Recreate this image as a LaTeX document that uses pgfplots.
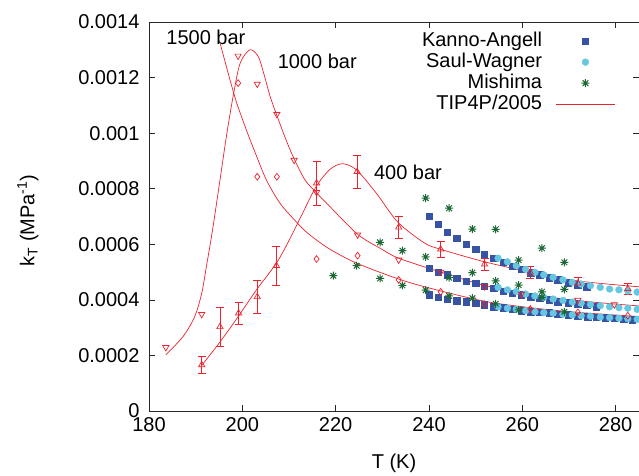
\documentclass[border=0pt]{standalone}
\usepackage{fontspec}
\setmainfont{Liberation Sans}
\usepackage{pgfplots}
\pgfplotsset{compat=1.18}
\definecolor{kablue}{RGB}{56,82,164}
\definecolor{swcyan}{RGB}{102,200,224}
\definecolor{mgreen}{RGB}{28,104,52}
\definecolor{tipred}{RGB}{236,34,44}
\definecolor{axgray}{RGB}{40,40,40}
\pgfdeclareplotmark{star8}{%
  \pgfpathmoveto{\pgfpoint{-\pgfplotmarksize}{0pt}}\pgfpathlineto{\pgfpoint{\pgfplotmarksize}{0pt}}%
  \pgfpathmoveto{\pgfpoint{0pt}{-\pgfplotmarksize}}\pgfpathlineto{\pgfpoint{0pt}{\pgfplotmarksize}}%
  \pgfpathmoveto{\pgfpoint{-0.707\pgfplotmarksize}{-0.707\pgfplotmarksize}}\pgfpathlineto{\pgfpoint{0.707\pgfplotmarksize}{0.707\pgfplotmarksize}}%
  \pgfpathmoveto{\pgfpoint{-0.707\pgfplotmarksize}{0.707\pgfplotmarksize}}\pgfpathlineto{\pgfpoint{0.707\pgfplotmarksize}{-0.707\pgfplotmarksize}}%
  \pgfusepathqstroke}
\newcommand{\bigfont}{\fontsize{20}{22}\selectfont}
\begin{document}
\begin{tikzpicture}
\useasboundingbox (-149pt,-64pt) rectangle (490pt,411pt);
\begin{axis}[
  width=490pt, height=389pt, scale only axis,
  xmin=180, xmax=285, ymin=0, ymax=0.0014,
  xtick={180,200,220,240,260,280},
  ytick={0,0.0002,0.0004,0.0006,0.0008,0.001,0.0012,0.0014},
  scaled y ticks=false,
  /pgf/number format/assume math mode=true,
  yticklabel style={/pgf/number format/fixed,/pgf/number format/precision=4, xshift=-6pt},
  xticklabel style={yshift=-3pt},
  tick label style={font=\bigfont},
  every axis y label/.style={at={(axis description cs:-0.247,0.49)}, rotate=90, anchor=center, font=\bigfont},
  every axis x label/.style={at={(axis description cs:0.5,0)}, anchor=center, yshift=-52pt, font=\bigfont},
  axis line style={axgray, line width=0.8pt},
  major tick style={axgray, line width=0.6pt},
  major tick length=6pt,
  tick align=inside,
  xlabel={T (K)},
  ylabel={k\textsubscript{T} (MPa\textsuperscript{-1})},
  legend style={draw=none, fill=none, inner sep=0pt, at={(0.951,0.977)}, anchor=north east,
    font=\bigfont, row sep=1pt,
    nodes={inner sep=0pt, text height=15pt, text depth=5pt},
    /tikz/every odd column/.append style={column sep=14pt}},
  legend cell align=right,
  legend plot pos=right,
  legend image code/.code={\draw[mark repeat=2,mark phase=2,#1] plot coordinates {(0pt,0pt) (29pt,0pt) (58pt,0pt)};},
]
% Kanno-Angell
\addplot[only marks, mark=square*, mark size=3.2pt, kablue, mark options={draw=none, fill=kablue}] table {
T k
240.0 0.000702
242.0 0.000672
243.9 0.000643
245.9 0.000622
248.0 0.000601
250.0 0.000582
251.8 0.000564
253.9 0.000550
255.9 0.000535
257.8 0.000522
259.8 0.000510
261.8 0.000498
263.7 0.000490
265.7 0.000480
267.6 0.000472
269.8 0.000462
271.9 0.000454
273.8 0.000447
240.0 0.000513
242.0 0.000499
243.9 0.000490
245.9 0.000478
248.0 0.000468
250.0 0.000460
251.8 0.000450
253.9 0.000442
255.9 0.000432
257.8 0.000424
259.8 0.000418
261.8 0.000411
263.7 0.000406
265.7 0.000400
267.6 0.000394
269.8 0.000390
271.9 0.000386
273.8 0.000381
275.8 0.000376
240.0 0.000418
242.0 0.000409
243.9 0.000402
245.9 0.000397
248.0 0.000393
250.0 0.000388
251.8 0.000382
253.9 0.000375
255.9 0.000372
257.8 0.000366
259.8 0.000361
261.8 0.000357
263.7 0.000355
265.7 0.000354
267.6 0.000349
269.8 0.000346
271.9 0.000342
274.0 0.000340
275.8 0.000337
277.7 0.000336
279.7 0.000334
281.7 0.000330
283.6 0.000328
};
\addlegendentry{Kanno-Angell}
% Saul-Wagner
\addplot[only marks, mark=*, mark size=3.4pt, swcyan, mark options={draw=none, fill=swcyan}] table {
T k
254.8 0.000550
256.8 0.000537
258.7 0.000523
260.7 0.000510
262.7 0.000499
264.6 0.000490
266.6 0.000481
268.7 0.000472
270.7 0.000463
272.6 0.000457
274.6 0.000451
276.7 0.000445
278.7 0.000439
280.7 0.000436
282.6 0.000432
284.6 0.000428
254.8 0.000445
256.8 0.000436
258.7 0.000430
260.7 0.000421
262.7 0.000414
264.6 0.000409
266.6 0.000403
268.7 0.000398
270.7 0.000392
272.6 0.000388
274.6 0.000383
276.7 0.000379
278.7 0.000375
280.7 0.000372
282.6 0.000370
284.6 0.000366
254.8 0.000375
256.8 0.000370
258.7 0.000366
260.7 0.000361
262.7 0.000357
264.6 0.000354
266.6 0.000352
268.7 0.000348
270.7 0.000346
272.6 0.000343
274.6 0.000341
276.7 0.000338
278.7 0.000336
280.7 0.000334
282.6 0.000332
284.6 0.000330
};
\addlegendentry{Saul-Wagner}
% Mishima
\addplot[only marks, mark=star8, mark size=4pt, mgreen, mark options={line width=1pt}] table {
T k
219.5 0.000487
224.5 0.000523
229.5 0.000607
229.5 0.000477
234.3 0.000577
234.3 0.000452
239.3 0.000766
239.3 0.000555
239.3 0.000435
244.3 0.000730
244.3 0.000480
244.3 0.000414
249.3 0.000655
249.3 0.000498
249.3 0.000406
254.3 0.000654
254.3 0.000468
254.3 0.000386
259.2 0.000543
259.2 0.000453
259.2 0.000364
264.2 0.000586
264.2 0.000429
264.2 0.000409
269.0 0.000535
269.0 0.000438
269.0 0.000357
};
\addlegendentry{Mishima}
% TIP4P/2005 400 bar
\addplot[tipred, line width=0.7pt, smooth, no marks] table {
T k
191.1 0.000160
195.2 0.000248
199.2 0.000342
203.2 0.000440
207.3 0.000532
210.2 0.000620
213.0 0.000715
215.9 0.000810
218.8 0.000870
221.5 0.000890
224.5 0.000867
228.8 0.000782
233.3 0.000680
239.0 0.000605
242.5 0.000582
251.9 0.000537
261.7 0.000500
271.9 0.000468
285.0 0.000447
};
\addlegendentry{TIP4P/2005}
% 1000 bar
\addplot[tipred, line width=0.7pt, smooth, no marks, forget plot] table {
T k
183.6 0.000202
187.3 0.000268
189.8 0.000340
191.3 0.000424
192.3 0.000520
193.6 0.000650
195.2 0.000830
196.6 0.000990
198.0 0.001130
199.5 0.001250
201.6 0.001300
203.4 0.001276
204.5 0.001220
206.0 0.001130
207.7 0.001050
209.5 0.000970
211.3 0.000900
213.5 0.000830
215.9 0.000785
218.8 0.000735
224.7 0.000636
229.5 0.000586
233.5 0.000550
242.5 0.000500
251.9 0.000452
261.7 0.000420
271.9 0.000397
285.0 0.000378
};
% 1500 bar
\addplot[tipred, line width=0.7pt, smooth, no marks, forget plot] table {
T k
195.3 0.001320
198.4 0.001130
200.9 0.001010
203.1 0.000915
205.2 0.000830
208.1 0.000747
211.6 0.000680
214.0 0.000640
218.5 0.000585
224.5 0.000532
233.5 0.000475
240.2 0.000442
251.9 0.000395
261.7 0.000372
271.9 0.000355
285.0 0.000340
};
% simulation points 400 bar
\addplot[tipred, only marks, mark=triangle, mark size=3.6pt, mark options={line width=0.7pt}, forget plot,
  error bars/.cd, y dir=both, y explicit, error bar style={tipred, line width=0.7pt},
  error mark options={rotate=90, mark size=4pt, tipred, line width=0.7pt}]
  table[x=T, y=k, y error=e] {
T k e
191.3 0.000166 0.00003
195.2 0.000303 0.00007
199.2 0.000352 0.00004
203.2 0.000411 0.00006
207.3 0.000523 0.00007
215.9 0.000820 0.00008
224.6 0.000861 0.00006
233.5 0.000661 0.00004
242.5 0.000582 0.00003
251.9 0.000528 0.00002
261.7 0.000499 0.00002
271.9 0.000460 0.00002
282.6 0.000440 0.00002
};
% 1000 bar
\addplot[tipred, only marks, mark=triangle, mark size=3.6pt, mark options={rotate=180, line width=0.7pt}, forget plot] table {
T k
183.6 0.000229
191.3 0.000348
199.1 0.001278
203.2 0.001177
207.4 0.001068
211.1 0.000903
215.9 0.000787
224.7 0.000634
233.5 0.000544
242.5 0.000500
251.9 0.000448
259.8 0.000421
271.9 0.000399
279.7 0.000383
};
% 1500 bar
\addplot[tipred, only marks, mark=diamond, mark size=3.4pt, mark options={line width=0.7pt}, forget plot] table {
T k
199.1 0.001180
203.2 0.000843
207.4 0.000843
215.9 0.000547
224.7 0.000559
233.5 0.000472
242.5 0.000429
251.9 0.000384
261.7 0.000367
271.9 0.000355
282.6 0.000343
};
\node[font=\bigfont, anchor=base] at (axis cs:192.2,0.001318) {1500 bar};
\node[font=\bigfont, anchor=base] at (axis cs:216.05,0.001234) {1000 bar};
\node[font=\bigfont, anchor=base] at (axis cs:235.5,0.000834) {400 bar};
\end{axis}
\end{tikzpicture}
\end{document}
